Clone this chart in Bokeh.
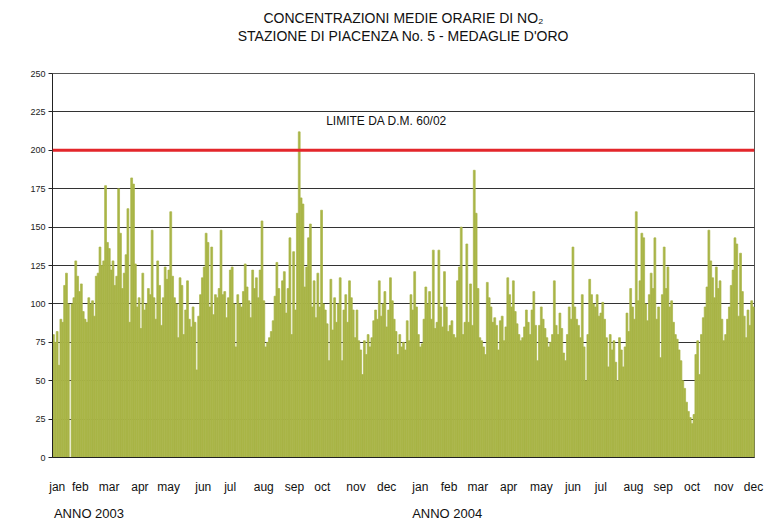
import numpy as np
from bokeh.plotting import figure
from bokeh.models import Span, Label, LinearAxis, FixedTicker, Title, Range1d, ColumnDataSource
from bokeh.embed import file_html
from bokeh.resources import INLINE

no2_2003_jan_apr = [80, 75, 82, 60, 90, 88, 112, 120, 100, 0, 100, 104, 128, 118, 108, 113, 95, 90, 88, 104,
                    100, 102, 92, 118, 120, 137, 125, 128, 177, 140, 136, 122, 128, 112, 118, 175, 146, 110, 120, 132,
                    162, 88, 182, 178, 126, 98, 104, 84, 120, 96, 100, 110, 106, 148, 104, 90, 128, 112, 86, 104,
                    124, 116]
no2_2003_may_aug = [122, 160, 118, 104, 100, 78, 117, 112, 80, 96, 115, 90, 85, 98, 88, 57, 92, 106, 117, 124,
                    146, 140, 98, 137, 93, 106, 104, 110, 148, 106, 108, 91, 104, 122, 124, 100, 72, 106, 100, 98,
                    108, 126, 111, 102, 91, 122, 110, 117, 104, 122, 154, 102, 72, 75, 78, 82, 89, 105, 127, 110,
                    100, 115]
no2_2003_sep_dec = [121, 94, 110, 143, 80, 134, 96, 159, 212, 169, 165, 111, 124, 143, 152, 98, 115, 91, 120, 98,
                    161, 100, 96, 87, 63, 116, 83, 104, 88, 100, 117, 63, 96, 106, 88, 115, 104, 96, 78, 96,
                    76, 70, 54, 76, 67, 80, 72, 78, 89, 96, 90, 115, 92, 100, 108, 85, 96, 117, 102, 90,
                    82, 67, 80, 72]
no2_2004_jan_apr = [75, 70, 89, 76, 106, 96, 121, 98, 80, 72, 74, 90, 111, 100, 108, 90, 135, 84, 88, 135,
                    98, 85, 121, 98, 82, 86, 89, 80, 78, 115, 124, 150, 80, 88, 139, 88, 113, 86, 187, 159,
                    110, 78, 76, 72, 67, 114, 104, 98, 88, 91, 86, 70, 89, 92, 76, 85, 117, 106, 98, 115,
                    95, 87, 80, 76]
no2_2004_may_aug = [78, 85, 96, 88, 80, 96, 108, 86, 63, 86, 98, 90, 84, 78, 72, 75, 80, 115, 86, 80,
                    94, 84, 68, 63, 80, 98, 90, 137, 98, 90, 86, 78, 106, 72, 50, 80, 116, 106, 100, 98,
                    106, 92, 94, 101, 90, 78, 59, 80, 70, 76, 62, 50, 78, 70, 59, 72, 94, 82, 110, 98,
                    90, 160, 102, 115]
no2_2004_sep_dec = [146, 143, 100, 89, 106, 120, 110, 143, 90, 98, 65, 106, 137, 110, 124, 98, 102, 88, 80, 77,
                    70, 63, 50, 45, 36, 30, 26, 22, 28, 67, 76, 54, 80, 91, 98, 111, 148, 128, 117, 104, 124,
                    110, 115, 90, 76, 80, 90, 98, 112, 122, 143, 139, 92, 133, 108, 92, 78, 96, 86, 102, 98]

month_labels = ["jan", "feb", "mar", "apr", "may", "jun", "jul", "aug", "sep", "oct", "nov", "dec",
                "jan", "feb", "mar", "apr", "may", "jun", "jul", "aug", "sep", "oct", "nov", "dec"]
month_label_days = [5, 29, 59, 91, 121, 157, 185, 220, 252, 281, 316, 348,
                    383, 413, 443, 475, 509, 542, 571, 605, 636, 666, 699, 730]
year_labels = ["ANNO 2003", "ANNO 2004"]
year_label_days = [38, 411]
y_ticks = [0, 25, 50, 75, 100, 125, 150, 175, 200, 225, 250]
limit_value = 200
limit_text = "LIMITE DA D.M. 60/02"
limit_text_day = 285
limit_text_y = 219
total_days = 731
title_line1 = "CONCENTRAZIONI MEDIE ORARIE DI NO\u2082"
title_line2 = "STAZIONE DI PIACENZA No. 5 - MEDAGLIE D'ORO"

values = (no2_2003_jan_apr + no2_2003_may_aug + no2_2003_sep_dec +
          no2_2004_jan_apr + no2_2004_may_aug + no2_2004_sep_dec)
n = len(values)
step = total_days / n
xs = [(i + 0.5) * step for i in range(n)]
src = ColumnDataSource(dict(x=xs, top=values))

FONT = "Liberation Sans"
OLIVE = "#a9b547"

p = figure(width=780, height=523, output_backend="svg", toolbar_location=None,
           x_range=Range1d(0, total_days), y_range=Range1d(0, 250),
           min_border_left=52, min_border_right=26, min_border_top=73, min_border_bottom=66)
p.background_fill_color = "white"
p.border_fill_color = "white"
p.outline_line_color = "#555555"
p.outline_line_width = 1

p.vbar(x="x", top="top", width=step, bottom=0, source=src,
       fill_color=OLIVE, line_color=OLIVE, line_width=0.7)

# grid
p.xgrid.visible = False
p.ygrid.ticker = FixedTicker(ticks=y_ticks)
p.ygrid.grid_line_color = "#333333"
p.ygrid.grid_line_width = 1

# y axis
p.yaxis.ticker = FixedTicker(ticks=y_ticks)
p.yaxis.axis_line_color = "#222222"
p.yaxis.major_tick_line_color = "#222222"
p.yaxis.major_tick_out = 4
p.yaxis.major_tick_in = 0
p.yaxis.minor_tick_line_color = None
p.yaxis.major_label_standoff = 3
p.yaxis.major_label_text_font = FONT
p.yaxis.major_label_text_font_size = "9px"
p.yaxis.major_label_text_color = "#222222"

# x axis with month labels
xa = p.xaxis[0]
xa.ticker = FixedTicker(ticks=month_label_days)
xa.major_label_overrides = {d: m for d, m in zip(month_label_days, month_labels)}
xa.axis_line_color = "#222222"
xa.major_tick_line_color = None
xa.minor_tick_line_color = None
xa.major_label_standoff = 16
xa.major_label_text_font = FONT
xa.major_label_text_font_size = "12px"
xa.major_label_text_color = "#111111"

# second axis with year labels
ya = LinearAxis(ticker=FixedTicker(ticks=year_label_days),
                major_label_overrides={d: t for d, t in zip(year_label_days, year_labels)})
ya.axis_line_color = None
ya.major_tick_line_color = None
ya.minor_tick_line_color = None
ya.major_label_standoff = 3
ya.major_label_text_font = FONT
ya.major_label_text_font_size = "13px"
ya.major_label_text_color = "#111111"
p.add_layout(ya, "below")

# limit line
p.add_layout(Span(location=limit_value, dimension="width", line_color="#e3262b", line_width=3))
p.add_layout(Label(x=limit_text_day, y=limit_text_y, text=limit_text, text_font=FONT,
                   text_font_size="12px", text_baseline="middle", text_color="#111111"))

# two-line title; a blank white spacer keeps the lines away from the frame
spacer = Title(text="\u00a0", align="center", standoff=13, text_font=FONT, text_font_size="13px",
               text_color="white")
t2 = Title(text=title_line2, align="center", standoff=0,
           text_font=FONT, text_font_size="14px", text_font_style="normal", text_color="#111111")
t1 = Title(text=title_line1, align="center", standoff=0,
           text_font=FONT, text_font_size="14px", text_font_style="normal", text_color="#111111")
p.add_layout(spacer, "above")
p.add_layout(t2, "above")
p.add_layout(t1, "above")

open("out.html", "w").write(file_html(p, INLINE))
